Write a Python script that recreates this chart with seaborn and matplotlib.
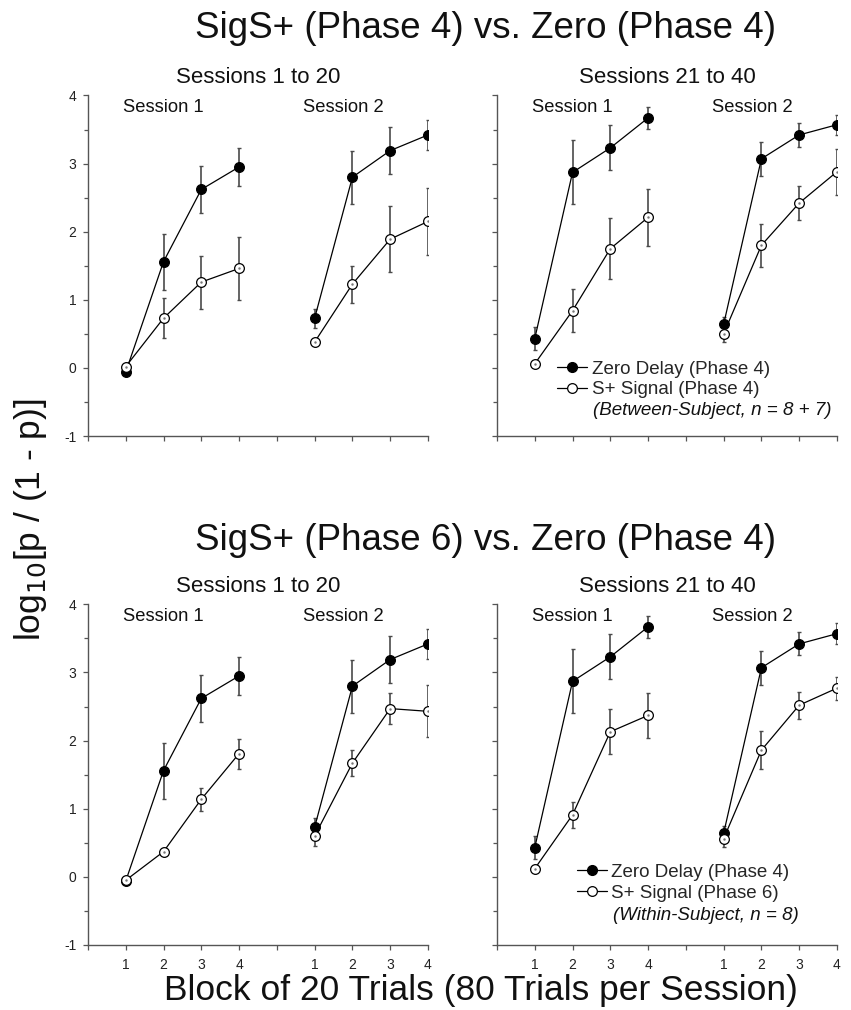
import numpy as np
import pandas as pd
import matplotlib
matplotlib.use("Agg")
import matplotlib.pyplot as plt
from matplotlib.lines import Line2D
from matplotlib.ticker import MultipleLocator
import seaborn as sns

# --- data: log10[p/(1-p)] means and SE per block ---
blocks = [1, 2, 3, 4]
sessions = [1, 2]
period_titles = ["Sessions 1 to 20", "Sessions 21 to 40"]
tick_labels = ["", "1", "2", "3", "4", "", "1", "2", "3", "4"]

zero_p4_early = [[-0.06, 1.56, 2.62, 2.95], [0.73, 2.80, 3.19, 3.42]]
zero_p4_early_se = [[0.03, 0.41, 0.34, 0.28], [0.14, 0.39, 0.35, 0.22]]
zero_p4_late = [[0.43, 2.87, 3.23, 3.67], [0.64, 3.07, 3.42, 3.57]]
zero_p4_late_se = [[0.17, 0.47, 0.33, 0.16], [0.10, 0.25, 0.17, 0.15]]

splus_p4_early = [[0.02, 0.73, 1.26, 1.46], [0.38, 1.23, 1.89, 2.15]]
splus_p4_early_se = [[0.03, 0.29, 0.39, 0.46], [0.04, 0.27, 0.48, 0.49]]
splus_p4_late = [[0.06, 0.84, 1.75, 2.21], [0.50, 1.80, 2.42, 2.88]]
splus_p4_late_se = [[0.04, 0.32, 0.45, 0.42], [0.12, 0.32, 0.25, 0.34]]

splus_p6_early = [[-0.05, 0.37, 1.14, 1.81], [0.60, 1.67, 2.47, 2.43]]
splus_p6_early_se = [[0.03, 0.05, 0.17, 0.22], [0.14, 0.19, 0.23, 0.38]]
splus_p6_late = [[0.12, 0.91, 2.13, 2.37], [0.56, 1.86, 2.52, 2.77]]
splus_p6_late_se = [[0.04, 0.19, 0.33, 0.33], [0.12, 0.28, 0.20, 0.17]]

row_titles = ["SigS+ (Phase 4) vs. Zero (Phase 4)", "SigS+ (Phase 6) vs. Zero (Phase 4)"]
legend_labels = [["Zero Delay (Phase 4)", "S+ Signal (Phase 4)"],
                 ["Zero Delay (Phase 4)", "S+ Signal (Phase 6)"]]
legend_notes = ["(Between-Subject, n = 8 + 7)", "(Within-Subject, n = 8)"]


def to_frame(means, ses, group):
    rows = []
    for si, sess in enumerate(sessions):
        for bi, blk in enumerate(blocks):
            rows.append(dict(group=group, session=sess, block=blk,
                             pos=blk + 5 * (sess - 1),
                             y=means[si][bi], se=ses[si][bi]))
    return pd.DataFrame(rows)


panels = {
    (0, 0): [to_frame(zero_p4_early, zero_p4_early_se, "zero"),
             to_frame(splus_p4_early, splus_p4_early_se, "splus")],
    (0, 1): [to_frame(zero_p4_late, zero_p4_late_se, "zero"),
             to_frame(splus_p4_late, splus_p4_late_se, "splus")],
    (1, 0): [to_frame(zero_p4_early, zero_p4_early_se, "zero"),
             to_frame(splus_p6_early, splus_p6_early_se, "splus")],
    (1, 1): [to_frame(zero_p4_late, zero_p4_late_se, "zero"),
             to_frame(splus_p6_late, splus_p6_late_se, "splus")],
}

sns.set_style("ticks")
plt.rcParams["font.family"] = ["Liberation Sans", "DejaVu Sans"]
plt.rcParams["axes.unicode_minus"] = False

AXC = "#555555"
ERRC = "#4a4a4a"
MS = 7.0

fig = plt.figure(figsize=(8.51, 10.10), dpi=100)
ax_x = [0.1034, 0.584]
ax_y = [0.5683, 0.0644]
ax_w, ax_h = 0.3995, 0.3372

styles = {
    "zero": dict(marker="o", markerfacecolor="black", markeredgecolor="black"),
    "splus": dict(marker="o", markerfacecolor="white", markeredgecolor="black"),
}

for (r, c), frames in panels.items():
    ax = fig.add_axes([ax_x[c], ax_y[r], ax_w, ax_h])
    for df in frames:
        g = df["group"].iloc[0]
        ax.errorbar(df["pos"], df["y"], yerr=df["se"], fmt="none", ecolor=ERRC,
                    elinewidth=1.2, capsize=1.6, capthick=1.0, zorder=2)
        for sess in sessions:
            sub = df[df["session"] == sess]
            sns.lineplot(data=sub, x="pos", y="y", ax=ax, color="black", lw=0.9,
                         markersize=MS, markeredgewidth=0.9, errorbar=None,
                         legend=False, zorder=3, **styles[g])
        if g == "splus":
            # tiny centre dot seen inside the open symbols
            ax.plot(df["pos"], df["y"], ls="none", marker=".", markersize=1.5,
                    color="#777777", zorder=4)

    ax.set_xlim(0, 9)
    ax.set_ylim(-1, 4)
    ax.set_xticks(range(10))
    ax.set_yticks(range(-1, 5))
    ax.yaxis.set_minor_locator(MultipleLocator(0.5))
    ax.set_xlabel("")
    ax.set_ylabel("")
    if r == 1:
        ax.set_xticklabels(tick_labels)
    else:
        ax.set_xticklabels([])
    if c == 1:
        ax.set_yticklabels([])
    ax.tick_params(axis="both", which="major", direction="out", length=3.5,
                   width=0.9, color=AXC, labelsize=10, labelcolor="#222222", pad=5)
    ax.tick_params(axis="y", which="minor", direction="out", length=3.0,
                   width=0.9, color=AXC)
    ax.tick_params(axis="x", which="major", pad=6)
    for side in ["top", "right"]:
        ax.spines[side].set_visible(False)
    for side in ["left", "bottom"]:
        ax.spines[side].set_color(AXC)
        ax.spines[side].set_linewidth(1.0)

    ax.set_title(period_titles[c], fontsize=16, pad=9, color="#111111")
    ax.text(1.99, 3.82, "Session 1", ha="center", va="center", fontsize=13.2,
            color="#111111")
    ax.text(6.75, 3.82, "Session 2", ha="center", va="center", fontsize=13.2,
            color="#111111")

    if c == 1:
        handles = [
            Line2D([], [], color="black", lw=0.9, markersize=MS, **styles["zero"]),
            Line2D([], [], color="black", lw=0.9, markersize=MS, markeredgewidth=0.9,
                   **styles["splus"]),
        ]
        if r == 0:
            anchor, note_xy = (0.178, 0.222), (0.282, 0.076)
        else:
            anchor, note_xy = (0.234, 0.238), (0.340, 0.086)
        ax.legend(handles, legend_labels[r], loc="upper left", bbox_to_anchor=anchor,
                  frameon=False, fontsize=13.5, handlelength=1.6, handletextpad=0.25,
                  labelspacing=0.2, borderpad=0, borderaxespad=0)
        ax.text(note_xy[0], note_xy[1], legend_notes[r], transform=ax.transAxes,
                ha="left", va="center", fontsize=13.5, style="italic", color="#111111")

fig.text(0.570, 1 - 38.3 / 1010, row_titles[0], ha="center", va="baseline",
         fontsize=26.5, color="#111111")
fig.text(0.570, 1 - 550 / 1010, row_titles[1], ha="center", va="baseline",
         fontsize=26.5, color="#111111")
fig.text(0.565, 1 - 1000 / 1010, "Block of 20 Trials (80 Trials per Session)",
         ha="center", va="baseline", fontsize=25.5, color="#111111")
fig.text(0.0364, 0.485, r"log$_{10}$[p / (1 - p)]", rotation=90, ha="center",
         va="center", fontsize=25.5, color="#111111")

fig.savefig("out.png", dpi=100)
plt.close(fig)
